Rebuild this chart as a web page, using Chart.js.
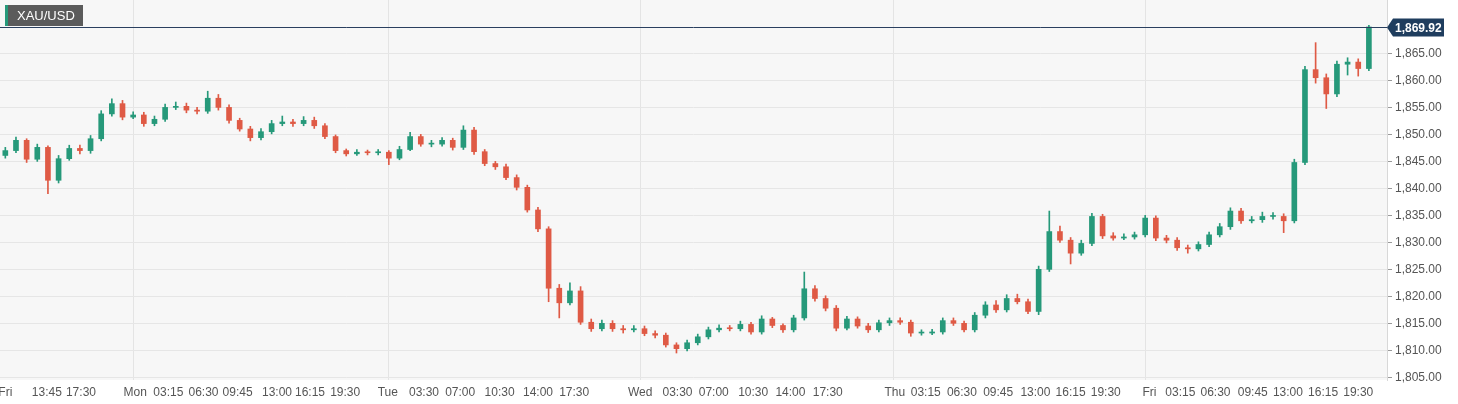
<!DOCTYPE html>
<html>
<head>
<meta charset="utf-8">
<script src="https://cdn.jsdelivr.net/npm/chart.js@4"></script>
<style>
  html, body { margin: 0; padding: 0; background: #fff; }
  #wrap { width: 1458px; height: 404px; position: relative; }
</style>
</head>
<body>
<div id="wrap"><canvas id="c" width="1458" height="404"></canvas></div>
<script>
// hourly candles, x = hour index from chart start
var opens = [1846.1,1847.0,1848.9,1845.4,1847.6,1841.5,1845.5,1847.4,1847.0,1849.2,1853.8,1855.7,1853.2,1853.6,1852.0,1852.8,
  1855.0,1855.2,1854.5,1854.3,1856.7,1855.0,1852.6,1851.0,1849.4,1850.5,1852.0,1852.3,1852.0,1852.6,1851.6,1849.6,
  1847.0,1846.4,1846.7,1846.6,1846.7,1845.6,1847.2,1849.6,1848.2,1848.2,1848.9,1847.6,1850.8,1846.8,1844.6,1844.0,
  1842.0,1840.2,1836.0,1832.5,1821.5,1818.8,1821.0,1815.2,1814.0,1815.0,1814.0,1813.8,1814.0,1813.1,1812.8,1811.0,
  1810.3,1811.4,1812.5,1813.8,1814.1,1814.0,1814.8,1813.4,1815.8,1814.6,1813.8,1816.0,1821.4,1819.6,1817.8,1814.1,
  1815.8,1814.5,1813.8,1815.1,1815.5,1815.2,1813.2,1813.2,1813.4,1815.5,1815.0,1813.8,1816.5,1818.4,1817.5,1819.6,
  1819.0,1817.2,1825.0,1832.0,1830.4,1828.0,1829.8,1834.8,1831.2,1830.8,1831.0,1831.4,1834.5,1830.8,1830.4,1829.0,
  1828.8,1829.6,1831.4,1832.9,1835.8,1834.0,1834.2,1834.8,1834.8,1834.0,1844.8,1862.0,1860.5,1857.5,1863.0,1863.4,
  1862.2];
var closes = [1847.0,1848.9,1845.4,1847.6,1841.5,1845.5,1847.4,1847.0,1849.2,1853.8,1855.7,1853.2,1853.6,1852.0,1852.8,1855.0,
  1855.2,1854.5,1854.3,1856.7,1855.0,1852.6,1851.0,1849.4,1850.5,1852.0,1852.3,1852.0,1852.6,1851.6,1849.6,1847.0,
  1846.4,1846.7,1846.6,1846.7,1845.6,1847.2,1849.6,1848.2,1848.2,1848.9,1847.6,1850.8,1846.8,1844.6,1844.0,1842.0,
  1840.2,1836.0,1832.5,1821.5,1818.8,1821.0,1815.2,1814.0,1815.0,1814.0,1813.8,1814.0,1813.1,1812.8,1811.0,1810.3,
  1811.4,1812.5,1813.8,1814.1,1814.0,1814.8,1813.4,1815.8,1814.6,1813.8,1816.0,1821.4,1819.6,1817.8,1814.1,1815.8,
  1814.5,1813.8,1815.1,1815.5,1815.2,1813.2,1813.2,1813.4,1815.5,1815.0,1813.8,1816.5,1818.4,1817.5,1819.6,1819.0,
  1817.2,1825.0,1832.0,1830.4,1828.0,1829.8,1834.8,1831.2,1830.8,1831.0,1831.4,1834.5,1830.8,1830.4,1829.0,1828.8,
  1829.6,1831.4,1832.9,1835.8,1834.0,1834.2,1834.8,1834.8,1834.0,1844.8,1862.0,1860.5,1857.5,1863.0,1863.4,1862.2,
  1869.9];
var highs = [1847.6,1849.5,1849.2,1848.2,1847.9,1846.1,1848.0,1848.0,1849.8,1854.4,1856.6,1856.3,1854.2,1854.1,1853.4,1855.6,
  1856.0,1855.8,1855.0,1858.0,1857.4,1855.5,1853.0,1851.5,1851.1,1852.6,1853.4,1852.8,1853.3,1853.2,1852.0,1849.9,
  1847.3,1847.2,1847.1,1847.2,1847.0,1847.8,1850.4,1850.0,1848.9,1849.4,1849.3,1851.6,1851.3,1847.2,1845.0,1844.5,
  1842.5,1840.6,1836.5,1832.9,1822.2,1822.5,1821.8,1815.8,1815.6,1815.5,1814.6,1814.6,1814.5,1813.6,1813.2,1811.4,
  1811.9,1813.0,1814.3,1814.7,1814.6,1815.4,1815.2,1816.4,1816.1,1814.9,1816.5,1824.5,1822.0,1820.1,1818.3,1816.3,
  1816.2,1815.0,1815.6,1816.0,1816.0,1815.6,1813.8,1813.9,1816.0,1816.0,1815.4,1817.0,1819.0,1819.2,1820.3,1820.4,
  1819.5,1825.6,1835.8,1833.0,1830.9,1830.4,1835.4,1835.2,1831.8,1831.6,1831.9,1835.0,1834.9,1831.3,1830.9,1829.5,
  1830.1,1831.9,1833.5,1836.4,1836.3,1834.8,1835.6,1835.5,1835.3,1845.4,1862.6,1867.0,1861.2,1863.6,1864.2,1864.0,
  1870.2];
var lows = [1845.6,1846.6,1844.8,1845.0,1839.0,1841.0,1845.2,1846.4,1846.5,1848.8,1853.4,1852.7,1852.9,1851.5,1851.6,1852.4,
  1854.6,1854.0,1853.8,1853.9,1854.5,1852.1,1850.6,1848.8,1849.0,1850.1,1851.6,1851.5,1851.6,1851.1,1849.2,1846.6,
  1846.0,1846.1,1846.2,1846.2,1844.4,1845.3,1847.0,1847.8,1847.7,1847.8,1847.1,1847.2,1846.3,1844.2,1843.5,1841.6,
  1839.7,1835.6,1832.0,1819.0,1816.0,1818.4,1814.8,1813.5,1813.6,1813.5,1813.2,1813.4,1812.7,1812.3,1810.6,1809.5,
  1809.9,1811.0,1812.1,1813.4,1813.6,1813.6,1813.0,1813.0,1814.2,1813.3,1813.4,1815.6,1819.1,1817.3,1813.6,1813.8,
  1814.1,1813.3,1813.4,1814.6,1814.8,1812.6,1812.8,1812.9,1813.0,1814.6,1813.4,1813.4,1816.0,1817.0,1817.1,1818.6,
  1816.8,1816.6,1824.6,1830.0,1826.0,1827.6,1829.4,1830.7,1830.4,1830.5,1830.6,1831.0,1830.3,1829.9,1828.5,1828.0,
  1828.4,1829.2,1831.0,1832.4,1833.5,1833.6,1833.7,1834.3,1831.8,1833.6,1844.4,1859.5,1854.8,1857.0,1861.0,1860.8,
  1861.8];
var tickPositions = [0.5,4.4,7.6,12.7,15.8,19.1,22.3,26.0,29.1,32.4,36.4,39.8,43.2,46.9,50.5,53.9,60.1,63.6,67.0,70.7,74.2,77.7,
  84.0,86.9,90.3,93.7,97.2,100.5,103.8,107.9,110.8,114.1,117.6,120.9,124.2,127.5];
var tickLabels = ['Fri','13:45','17:30','Mon','03:15','06:30','09:45','13:00','16:15','19:30','Tue','03:30','07:00','10:30','14:00','17:30',
  'Wed','03:30','07:00','10:30','14:00','17:30','Thu','03:15','06:30','09:45','13:00','16:15','19:30','Fri','03:15','06:30','09:45','13:00','16:15','19:30'];
var dayGrid = [12.5, 36.4, 60.1, 83.85, 107.5];
var priceTicks = [1805,1810,1815,1820,1825,1830,1835,1840,1845,1850,1855,1860,1865];
var lastPrice = 1869.92;
var symbol = 'XAU/USD';

var GREEN = '#26997a', RED = '#df5a45';
var cols = closes.map(function (c, i) { return c >= opens[i] ? GREEN : RED; });
var wickData = highs.map(function (h, i) { return { x: i + 0.5, y: [lows[i], h] }; });
var bodyData = closes.map(function (c, i) { return { x: i + 0.5, y: [opens[i], c] }; });

var fmt = function (v) { return v.toLocaleString('en-US', { minimumFractionDigits: 2, maximumFractionDigits: 2 }); };

var decor = {
  id: 'decor',
  beforeDraw: function (chart) {
    var a = chart.chartArea, ctx = chart.ctx;
    ctx.save();
    ctx.fillStyle = '#f7f7f7';
    ctx.fillRect(a.left, a.top, a.right - a.left, a.bottom - a.top);
    ctx.strokeStyle = '#e4e4e4';
    ctx.lineWidth = 1;
    dayGrid.forEach(function (d) {
      var x = Math.round(chart.scales.x.getPixelForValue(d)) + 0.5;
      ctx.beginPath(); ctx.moveTo(x, a.top); ctx.lineTo(x, a.bottom); ctx.stroke();
    });
    ctx.restore();
  },
  afterDraw: function (chart) {
    var a = chart.chartArea, ctx = chart.ctx;
    var y = Math.round(chart.scales.y.getPixelForValue(lastPrice)) + 0.5;
    ctx.save();
    ctx.strokeStyle = '#2a3f5f';
    ctx.lineWidth = 1;
    ctx.beginPath(); ctx.moveTo(a.left, y); ctx.lineTo(a.right, y); ctx.stroke();
    // price tag
    ctx.fillStyle = '#1f3d5e';
    ctx.beginPath();
    ctx.moveTo(a.right, y); ctx.lineTo(a.right + 6, y - 9); ctx.lineTo(a.right + 57, y - 9);
    ctx.lineTo(a.right + 57, y + 9); ctx.lineTo(a.right + 6, y + 9); ctx.closePath(); ctx.fill();
    ctx.fillStyle = '#fff';
    ctx.font = 'bold 12px "Liberation Sans", Arial, sans-serif';
    ctx.textBaseline = 'middle';
    ctx.fillText(fmt(lastPrice), a.right + 8, y + 1);
    // symbol badge
    ctx.fillStyle = '#5b5b5b';
    ctx.fillRect(5, 5, 78, 21);
    ctx.fillStyle = '#26997a';
    ctx.fillRect(5, 5, 3, 21);
    ctx.fillStyle = '#fff';
    ctx.font = '13px "Liberation Sans", Arial, sans-serif';
    ctx.fillText(symbol, 17, 16);
    ctx.restore();
  }
};

new Chart(document.getElementById('c'), {
  type: 'bar',
  data: {
    datasets: [
      { data: wickData, backgroundColor: cols, barThickness: 1, grouped: false, order: 2 },
      { data: bodyData, backgroundColor: cols, barThickness: 5, grouped: false, minBarLength: 1, order: 1 }
    ]
  },
  options: {
    responsive: false,
    animation: false,
    devicePixelRatio: 1,
    layout: { padding: { top: 0, left: 0, right: 0, bottom: 0 } },
    plugins: { legend: { display: false }, tooltip: { enabled: false } },
    scales: {
      x: {
        type: 'linear', min: 0, max: 130.2, offset: false,
        afterBuildTicks: function (s) { s.ticks = tickPositions.map(function (v) { return { value: v }; }); },
        afterFit: function (s) { s.height = 24; s.paddingLeft = 0; },
        ticks: {
          autoSkip: false, maxRotation: 0, padding: 5, color: '#555',
          font: { size: 12, family: '"Liberation Sans", Arial, sans-serif' },
          callback: function (v, i) { return tickLabels[i]; }
        },
        grid: { display: false, drawTicks: false },
        border: { display: false }
      },
      y: {
        position: 'right', min: 1804.5, max: 1874.9,
        afterBuildTicks: function (s) { s.ticks = priceTicks.map(function (v) { return { value: v }; }); },
        afterFit: function (s) { s.width = 71; s.paddingTop = 0; s.paddingBottom = 0; },
        ticks: {
          autoSkip: false, color: '#555', padding: 3,
          font: { size: 12, family: '"Liberation Sans", Arial, sans-serif' },
          callback: function (v) { return fmt(v); }
        },
        grid: { color: '#e6e6e6', tickLength: 5, tickColor: '#999' },
        border: { display: true, color: '#d8d8d8' }
      }
    }
  },
  plugins: [decor]
});
</script>
</body>
</html>
